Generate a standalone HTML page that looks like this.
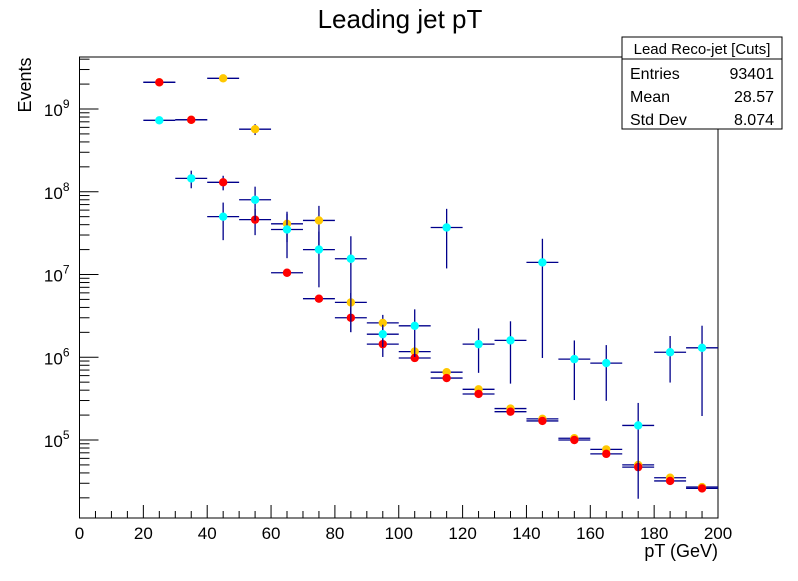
<!DOCTYPE html>
<html><head><meta charset="utf-8"><style>
body{margin:0;background:#fff;}
svg{font-family:"Liberation Sans",sans-serif;}
</style></head><body>
<svg id="c" width="798" height="576" xmlns="http://www.w3.org/2000/svg">
<text x="400" y="28" font-size="26" text-anchor="middle">Leading jet pT</text>
<text transform="translate(31,85) rotate(-90)" font-size="18" text-anchor="middle">Events</text>
<text x="718" y="557" font-size="18" text-anchor="end">pT (GeV)</text>
<g id="plot"></g>
<g>
<rect x="622" y="37" width="160" height="92" fill="#fff" stroke="#000" stroke-width="1"/>
<line x1="622" y1="59" x2="782" y2="59" stroke="#000"/>
<text x="702" y="54" font-size="15" text-anchor="middle">Lead Reco-jet [Cuts]</text>
<text x="630" y="79" font-size="16">Entries</text>
<text x="774" y="79" font-size="16" text-anchor="end">93401</text>
<text x="630" y="102" font-size="16">Mean</text>
<text x="774" y="102" font-size="16" text-anchor="end">28.57</text>
<text x="630" y="125" font-size="16">Std Dev</text>
<text x="774" y="125" font-size="16" text-anchor="end">8.074</text>
</g>
</svg>
<script>
const binCenters=[25,35,45,55,65,75,85,95,105,115,125,135,145,155,165,175,185,195];
const yellowVals=[2.1e9,7.4e8,2.35e9,5.7e8,4.1e7,4.5e7,4.6e6,2.6e6,1.17e6,6.6e5,4.1e5,2.4e5,1.8e5,1.05e5,7.7e4,5.0e4,3.5e4,2.7e4];
const yellowErr=[0.05,0.05,0.05,0.15,0.4,0.5,0.3,0.25,0.1,0.05,0.05,0.05,0.05,0.03,0.05,0.05,0.05,0.05];
const redVals=[2.1e9,7.4e8,1.3e8,4.6e7,1.05e7,5.1e6,3.0e6,1.44e6,9.8e5,5.6e5,3.6e5,2.2e5,1.7e5,1.0e5,6.8e4,4.7e4,3.2e4,2.6e4];
const redErr=[0.05,0.05,0.2,0.35,0.05,0.05,0.33,0.3,0.1,0.05,0.05,0.05,0.05,0.03,0.05,0.05,0.05,0.05];
const cyanVals=[7.3e8,1.45e8,5.0e7,8.0e7,3.5e7,2.0e7,1.55e7,1.9e6,2.4e6,3.7e7,1.44e6,1.6e6,1.4e7,9.5e5,8.5e5,1.5e5,1.15e6,1.3e6];
const cyanErr=[0.05,0.24,0.48,0.44,0.55,0.65,0.87,0.3,0.58,0.68,0.55,0.7,0.93,0.68,0.65,0.87,0.57,0.85];
const xTicks=[0,20,40,60,80,100,120,140,160,180,200];
const yTickExps=[5,6,7,8,9];

const NS="http://www.w3.org/2000/svg";
const L=79.5,R=718,T=57,B=518;
const X0=0,X1=200,Y5=440,DEC=82.75;
const sx=v=>L+(v-X0)/(X1-X0)*(R-L);
const sy=v=>Y5-(Math.log10(v)-5)*DEC;
const g=document.getElementById('plot');
function mk(tag,attrs,parent){const e=document.createElementNS(NS,tag);for(const k in attrs)e.setAttribute(k,attrs[k]);(parent||g).appendChild(e);return e;}
const clip=mk('clipPath',{id:'cp'});mk('rect',{x:L,y:T,width:R-L,height:B-T},clip);
const frame=mk('rect',{x:L,y:T,width:R-L,height:B-T,fill:'none',stroke:'#000','stroke-width':1});


for(let v=0;v<=200;v+=5){const maj=v%20===0;const t=mk('line',{x1:sx(v),x2:sx(v),y1:B,y2:B-(maj?13:7),stroke:'#000'});

}
xTicks.forEach(v=>{const t=mk('text',{x:sx(v),y:B+21,'font-size':17,'text-anchor':'middle'});t.textContent=v;

});
for(let e=4;e<=9;e++){for(let m=1;m<10;m++){const y=sy(m*Math.pow(10,e));if(y<T||y>B)continue;const t=mk('line',{x1:L,x2:L+(m===1?19:10),y1:y,y2:y,stroke:'#000'});

}}
yTickExps.forEach(e=>{const t=mk('text',{x:L-10,y:sy(Math.pow(10,e))+7,'font-size':17,'text-anchor':'end'});t.innerHTML='10<tspan dy="-8" font-size="12">'+e+'</tspan>';

});
const pg=mk('g',{'clip-path':'url(#cp)'});
function series(vals,errs,color,name){binCenters.forEach((c,i)=>{const v=vals[i],s=v*errs[i];const y=sy(v);
const grp=mk('g',{},pg);


mk('line',{x1:sx(c-5),x2:sx(c+5),y1:y,y2:y,stroke:'#00008b','stroke-width':1.3},grp);
const lo=v-s>0?sy(v-s):B+5;
mk('line',{x1:sx(c),x2:sx(c),y1:sy(v+s),y2:lo,stroke:'#00008b','stroke-width':1.3},grp);
mk('circle',{cx:sx(c),cy:y,r:4.2,fill:color},grp);});}
series(yellowVals,yellowErr,'#ffc800','yellow');
series(redVals,redErr,'#ff0000','red');
series(cyanVals,cyanErr,'#00ffff','cyan');
</script>
</body></html>
